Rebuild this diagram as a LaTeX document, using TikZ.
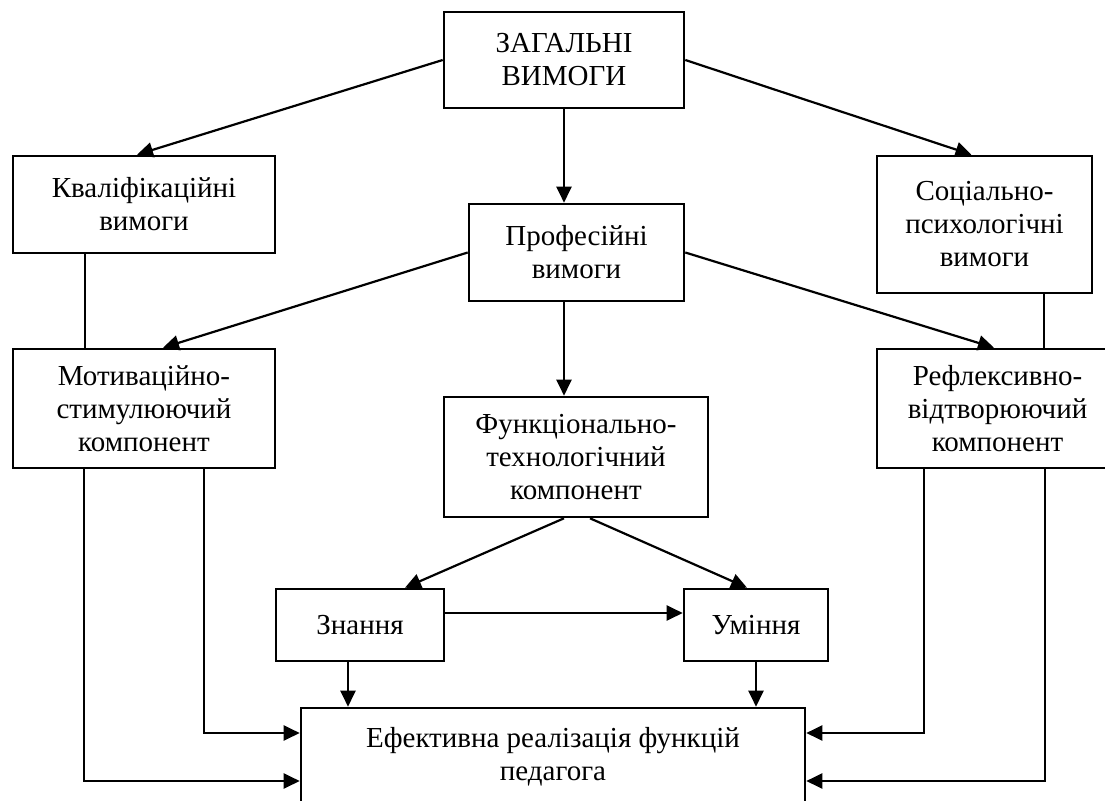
\documentclass[tikz,border=0pt]{standalone}
\usepackage{fontspec}
\setmainfont{Liberation Serif}
\usetikzlibrary{arrows.meta,calc}
\begin{document}
\begin{tikzpicture}[x=1pt,y=-1pt,
  box/.style={draw,line width=2.6pt,rectangle,align=center,inner sep=0pt,
    font=\fontsize{29}{33}\selectfont},
  arr/.style={line width=2.2pt,-{Triangle[length=16pt,width=15pt]}},
  ln/.style={line width=1.7pt}]
\useasboundingbox (0,0) rectangle (1105,800);
\clip (0,0) rectangle (1105,800);
\node[box,minimum width=240pt,minimum height=96pt] (top) at (564,60) {ЗАГАЛЬНІ\\ВИМОГИ};
\node[box,minimum width=262pt,minimum height=97pt] (kval) at (144,204.5) {Кваліфікаційні\\вимоги};
\node[box,minimum width=215pt,minimum height=97pt] (prof) at (576.5,252.5) {Професійні\\вимоги};
\node[box,minimum width=215pt,minimum height=137pt] (soc) at (984.5,224.5) {Соціально-\\психологічні\\вимоги};
\node[box,minimum width=262pt,minimum height=119pt] (motiv) at (144,408.5) {Мотиваційно-\\стимулюючий\\компонент};
\node[box,minimum width=241pt,minimum height=119pt] (refl) at (997.5,408.5) {Рефлексивно-\\відтворюючий\\компонент};
\node[box,minimum width=264pt,minimum height=120pt] (func) at (576,457) {Функціонально-\\технологічний\\компонент};
\node[box,minimum width=168pt,minimum height=72pt] (znan) at (360,625) {Знання};
\node[box,minimum width=144pt,minimum height=72pt] (umin) at (756,625) {Уміння};
\node[box,minimum width=504pt,minimum height=98pt] (efek) at (553,757) {Ефективна реалізація функцій\\педагога};
% from top
\draw[arr] (top.west) -- ([xshift=-7pt]kval.north);
\draw[arr] (top.east) -- ([xshift=-13pt]soc.north);
\draw[arr] (top.south) -- (top.south |- prof.north);
% from prof
\draw[arr] (prof.west) -- ([xshift=19pt]motiv.north);
\draw[arr] (prof.east) -- ([xshift=-3.5pt]refl.north);
\draw[arr] (top.south |- prof.south) -- (top.south |- func.north);
% plain links
\draw[ln] ([xshift=-59pt]kval.south) -- ([xshift=-59pt]kval.south |- motiv.north);
\draw[ln] ([xshift=59.5pt]soc.south) -- ([xshift=59.5pt]soc.south |- refl.north);
% from func
\draw[arr] ([xshift=-12pt]func.south) -- ([xshift=45pt]znan.north);
\draw[arr] ([xshift=14pt]func.south) -- ([xshift=-9pt]umin.north);
\draw[arr] ([yshift=12pt]znan.east) -- ([yshift=12pt]znan.east -| umin.west);
% to efek
\draw[arr] ([xshift=-12pt]znan.south) -- ([xshift=-12pt]znan.south |- efek.north);
\draw[arr] (umin.south) -- (umin.south |- efek.north);
\draw[arr] ([xshift=60pt]motiv.south) |- ([yshift=24pt]efek.west);
\draw[arr] ([xshift=-60pt]motiv.south) |- ([yshift=-24pt]efek.west);
\draw[arr] ([xshift=-73.5pt]refl.south) |- ([yshift=24pt]efek.east);
\draw[arr] ([xshift=47.5pt]refl.south) |- ([yshift=-24pt]efek.east);
\end{tikzpicture}
\end{document}
